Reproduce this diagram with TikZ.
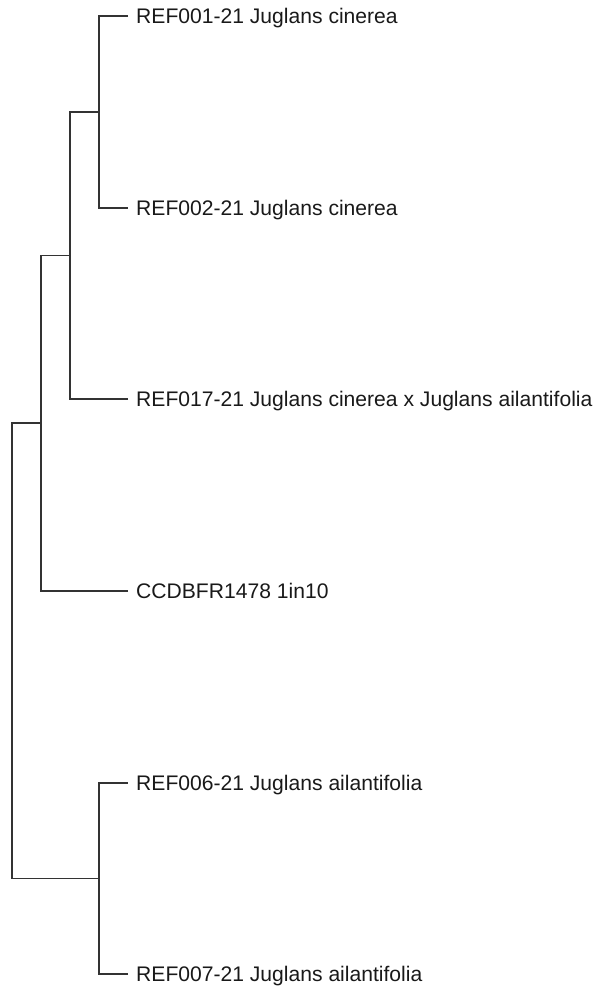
\documentclass[tikz,border=0pt]{standalone}
\usepackage{fontspec}
\setmainfont{Liberation Sans}
\begin{document}
\begin{tikzpicture}[x=1pt,y=-1pt,
  edge/.style={draw=black!80,line width=1.3pt},
  leaf/.style={anchor=base west,inner sep=0pt,font=\fontsize{21.1}{23}\selectfont,text=black!90}]
\useasboundingbox (0,0) rectangle (597,990);
% internal nodes
\coordinate (A) at (99,112);
\coordinate (B) at (70,255.5);
\coordinate (C) at (41,423);
\coordinate (D) at (99,878.5);
% leaf tips
\coordinate (t1) at (128,16);
\coordinate (t2) at (128,208);
\coordinate (t3) at (128,399);
\coordinate (t4) at (128,591);
\coordinate (t5) at (128,783);
\coordinate (t6) at (128,974);
% leaves
\node[leaf] (l1) at (136,23.5) {REF001-21 Juglans cinerea};
\node[leaf] (l2) at (136,215.5) {REF002-21 Juglans cinerea};
\node[leaf] (l3) at (136,406.5) {REF017-21 Juglans cinerea x Juglans ailantifolia};
\node[leaf] (l4) at (136,598.5) {CCDBFR1478 1in10};
\node[leaf] (l5) at (136,790.5) {REF006-21 Juglans ailantifolia};
\node[leaf] (l6) at (136,981.5) {REF007-21 Juglans ailantifolia};
% edges
\draw[edge] (t1) -| (A) |- (t2);
\draw[edge] (t3) -| (B) |- (A);
\draw[edge] (t4) -| (C) |- (B);
\draw[edge] (t6) -| (D) |- (t5);
\draw[edge] (D) -| (12,423) -- (C);
\end{tikzpicture}
\end{document}
